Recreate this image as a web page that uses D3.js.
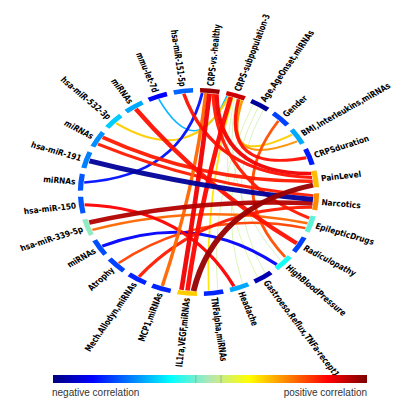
<!DOCTYPE html>
<html>
<head>
<meta charset="utf-8">
<script src="https://cdn.jsdelivr.net/npm/d3@7"></script>
<style>
  body { margin: 0; background: #fff; }
  svg { display: block; }
</style>
</head>
<body>
<div id="viz"></div>
<script>
// segments around the circle, clockwise from 12 o'clock
var segments = [
  "CRPS-vs.-healthy", "CRPS-subpopulation-3", "Age,AgeOnset,miRNAs", "Gender",
  "BMI,Interleukins,miRNAs", "CRPSduration", "PainLevel", "Narcotics",
  "EpilepticDrugs", "Radiculopathy", "HighBloodPressure", "Gastroeso.Reflux,TNFa-recept1",
  "Headache", "TNFalpha,miRNAs", "IL1ra,VEGF,miRNAs", "MCP1,miRNAs",
  "Mech.Allodyn,miRNAs", "Atrophy", "miRNAs", "hsa-miR-339-5p",
  "hsa-miR-150", "miRNAs", "hsa-miR-191", "miRNAs",
  "hsa-miR-532-3p", "miRNAs", "mmu-let-7d", "hsa-miR-151-5p"
];
var segmentValues = [
  0.95, 0.85, -0.95, -0.62, -0.42, -0.7, 0.38, 0.48,
  -0.12, -0.62, -0.22, -0.9, -0.42, -0.68, 0.35, -0.68,
  -0.68, -0.62, -0.6, -0.05, -0.58, -0.58, -0.5, -0.47,
  -0.35, -0.42, -0.75, -0.55
];

// links: from segment, to segment, correlation, strength
var chordFrom    = [22, 14, 19, 21, 18, 26, 24, 25, 23, 23, 20, 19, 17, 16, 15, 14, 14, 13, 3, 1, 1, 1, 27, 0, 0, 2, 2, 1, 1, 2];
var chordTo      = [7, 6, 7, 0, 10, 1, 1, 9, 6, 7, 12, 8, 8, 7, 0, 0, 1, 1, 10, 4, 4, 5, 6, 6, 8, 11, 12, 11, 10, 13];
var chordValues  = [-0.95, 0.95, 0.9, -0.72, -0.75, -0.4, 0.35, 0.72, 0.7, 0.7, 0.75, 0.55, 0.62, 0.7, 0.55, 0.78, 0.74, 0.3, 0.6, 0.35, 0.47, 0.72, 0.72, 0.78, 0.7, 0.03, 0.05, 0.08, 0.02, 0.06];
var chordWeights = [5, 5, 4.5, 2.5, 3, 1.5, 2, 4, 3.5, 3, 3, 2.5, 2.5, 3, 3, 4, 4, 1.5, 2.5, 2, 2, 3, 3, 3.5, 3, 0.8, 0.8, 0.8, 0.8, 0.8];

var legendLabels = ["negative correlation", "positive correlation"];
var colorStops = [-1, -0.75, -0.25, 0, 0.25, 0.75, 1];
var colorRange = ["#00007f", "#0000ff", "#00ffff", "#b4e6b4", "#ffff00", "#ff0000", "#7f0000"];

var width = 400, height = 400;
var cx = 198.5, cy = 192, stretch = 1.16;
var rIn = 99.5, rOut = 104;

var color = d3.scaleLinear().domain(colorStops).range(colorRange).clamp(true);

var svg = d3.select("#viz").append("svg")
    .attr("width", width)
    .attr("height", height);

var g = svg.append("g")
    .attr("transform", "translate(" + cx + "," + cy + ") scale(" + stretch + ",1)");

var pad = 2.4 * Math.PI / 180;
var start = (5.5 - 180 / segments.length) * Math.PI / 180;

var pie = d3.pie().value(1).sort(null)
    .startAngle(start).endAngle(start + 2 * Math.PI)
    .padAngle(pad);
var arcs = pie(segments);

var arc = d3.arc().innerRadius(rIn).outerRadius(rOut);

g.selectAll("path.seg")
  .data(arcs)
  .enter()
  .append("path")
  .attr("class", "seg")
  .attr("d", arc)
  .attr("fill", function(d, i) { return color(segmentValues[i]); });

// spread the link ends inside each segment
var mid = arcs.map(function(d) { return (d.startAngle + d.endAngle) / 2; });
var ends = segments.map(function() { return []; });
chordFrom.forEach(function(s, i) {
  ends[s].push({ chord: i, side: 0, other: chordTo[i] });
  ends[chordTo[i]].push({ chord: i, side: 1, other: s });
});
var endAngle = chordFrom.map(function() { return [0, 0]; });
ends.forEach(function(list, s) {
  var a0 = arcs[s].startAngle + pad / 2 + 0.012;
  var a1 = arcs[s].endAngle - pad / 2 - 0.012;
  list.forEach(function(e) {
    e.d = (mid[e.other] - mid[s] + 4 * Math.PI) % (2 * Math.PI);
  });
  list.sort(function(a, b) { return b.d - a.d; });
  list.forEach(function(e, k) {
    endAngle[e.chord][e.side] = a0 + (k + 0.5) / list.length * (a1 - a0);
  });
});

function pt(a, r) { return [r * Math.sin(a), -r * Math.cos(a)]; }

var order = d3.range(chordFrom.length).sort(function(a, b) { return chordWeights[a] - chordWeights[b]; });

g.selectAll("path.link")
  .data(order)
  .enter()
  .append("path")
  .attr("class", "link")
  .attr("d", function(i) {
    var p0 = pt(endAngle[i][0], rIn - 0.5);
    var p1 = pt(endAngle[i][1], rIn - 0.5);
    var k = 0.3;
    var p = d3.path();
    p.moveTo(p0[0], p0[1]);
    p.quadraticCurveTo(k * (p0[0] + p1[0]) / 2, k * (p0[1] + p1[1]) / 2, p1[0], p1[1]);
    return p.toString();
  })
  .attr("fill", "none")
  .attr("stroke", function(i) { return color(chordValues[i]); })
  .attr("stroke-opacity", function(i) { return chordWeights[i] < 1 ? 0.7 : 0.95; })
  .attr("stroke-width", function(i) { return chordWeights[i]; });

// labels
g.selectAll("text.lab")
  .data(arcs)
  .enter()
  .append("text")
  .attr("class", "lab")
  .attr("transform", function(d, i) {
    var a = mid[i];
    return "rotate(" + (a * 180 / Math.PI - 90) + ") translate(" + (rOut + 2.5) + ",0)" +
      (a > Math.PI ? " rotate(180)" : "") + " scale(0.86,1)";
  })
  .attr("text-anchor", function(d, i) { return mid[i] > Math.PI ? "end" : "start"; })
  .attr("dy", "0.35em")
  .style("font-family", "'Liberation Sans Narrow', 'Arial Narrow', 'DejaVu Sans Condensed', sans-serif")
  .style("font-weight", "bold")
  .style("font-size", "8.3px")
  .style("fill", "#000")
  .text(function(d) { return d.data; });

// colour bar
var lx = 53, lw = 314, ly = 375, lh = 8;
var grad = svg.append("defs").append("linearGradient").attr("id", "jet");
grad.selectAll("stop")
  .data(colorStops)
  .enter()
  .append("stop")
  .attr("offset", function(v) { return ((v + 1) / 2 * 100) + "%"; })
  .attr("stop-color", function(v) { return color(v); });

var lscale = d3.scaleLinear().domain([-1, 1]).range([lx, lx + lw]);

svg.append("rect")
  .attr("x", lx).attr("y", ly)
  .attr("width", lw).attr("height", lh)
  .attr("fill", "url(#jet)");

svg.selectAll("line.tick")
  .data([-0.09, 0.07])
  .enter()
  .append("line")
  .attr("x1", function(v) { return lscale(v); })
  .attr("x2", function(v) { return lscale(v); })
  .attr("y1", ly).attr("y2", ly + lh)
  .attr("stroke", "#8aa88a")
  .attr("stroke-width", 0.8);

svg.selectAll("text.leg")
  .data(legendLabels)
  .enter()
  .append("text")
  .attr("class", "leg")
  .attr("x", function(d, i) { return i ? lx + lw : lx - 1; })
  .attr("y", 396)
  .attr("text-anchor", function(d, i) { return i ? "end" : "start"; })
  .style("font-family", "'Liberation Sans', Arial, sans-serif")
  .style("font-size", "10px")
  .style("fill", "#333")
  .text(function(d) { return d; });
</script>
</body>
</html>
